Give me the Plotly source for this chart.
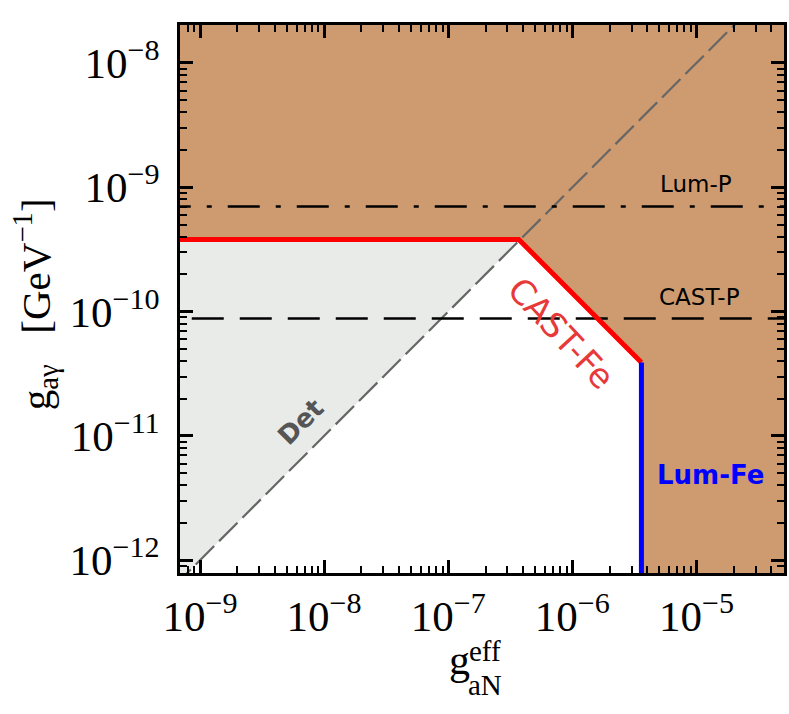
import math
import plotly.graph_objects as go

# ---- data ----
cast_fe_x = [6.9e-10, 3.7e-7, 3.6e-6]
cast_fe_y = [3.8e-10, 3.8e-10, 3.9e-11]
lum_fe_x = [3.6e-6, 3.6e-6]
lum_fe_y = [3.9e-11, 7.0e-13]
lum_p_y = 7.0e-10
cast_p_y = 8.8e-11
det_x = [6.0e-10, 2.2e-5]
det_y = [6.0e-13, 2.2e-8]

x_range = [6.9e-10, 5.07e-5]
y_range = [7.9e-13, 2.02e-8]

x_tick_vals = [1e-9, 1e-8, 1e-7, 1e-6, 1e-5]
x_tick_text = ["10<sup>−9</sup>", "10<sup>−8</sup>", "10<sup>−7</sup>", "10<sup>−6</sup>", "10<sup>−5</sup>"]
y_tick_vals = [1e-12, 1e-11, 1e-10, 1e-9, 1e-8]
y_tick_text = ["10<sup>−12</sup>", "10<sup>−11</sup>", "10<sup>−10</sup>", "10<sup>−9</sup>", "10<sup>−8</sup>"]

BROWN = "#CE9B71"
GREY_FILL = "#E8EBE8"

lo_x, hi_x = 1e-11, 1e-3
lo_y, hi_y = 1e-14, 1e-6

def minor_vals(a, b):
    out = []
    for e in range(a, b + 1):
        for k in range(2, 10):
            out.append(k * 10.0 ** e)
    return out

fig = go.Figure()

# brown excluded region
fig.add_trace(go.Scatter(
    x=[lo_x, cast_fe_x[1], cast_fe_x[2], lum_fe_x[1], hi_x, hi_x, lo_x],
    y=[cast_fe_y[0], cast_fe_y[1], cast_fe_y[2], lo_y, lo_y, hi_y, hi_y],
    fill="toself", fillcolor=BROWN, line=dict(width=0), mode="lines",
    hoverinfo="skip", showlegend=False))

# grey (Det) region
ratio = det_y[0] / det_x[0]
fig.add_trace(go.Scatter(
    x=[lo_x, lo_x, cast_fe_x[1], cast_fe_x[1], lo_x],
    y=[lo_y, cast_fe_y[0], cast_fe_y[1], cast_fe_x[1] * ratio, lo_x * ratio],
    fill="toself", fillcolor=GREY_FILL, line=dict(width=0), mode="lines",
    hoverinfo="skip", showlegend=False))

# Det line
fig.add_trace(go.Scatter(x=det_x, y=det_y, mode="lines",
    line=dict(color="#666666", width=2.2, dash="26px,7px"), showlegend=False))

# Lum-P dash-dot
fig.add_trace(go.Scatter(x=[lo_x, hi_x], y=[lum_p_y, lum_p_y], mode="lines",
    line=dict(color="black", width=2.4, dash="32px,16px,5px,16px"), showlegend=False))

# CAST-P dashed
fig.add_trace(go.Scatter(x=[lo_x, hi_x], y=[cast_p_y, cast_p_y], mode="lines",
    line=dict(color="black", width=2.4, dash="32px,16px"), showlegend=False))

# CAST-Fe
fig.add_trace(go.Scatter(x=[lo_x] + cast_fe_x[1:], y=cast_fe_y, mode="lines",
    line=dict(color="#FF0000", width=5), showlegend=False))

# Lum-Fe
fig.add_trace(go.Scatter(x=lum_fe_x, y=lum_fe_y, mode="lines",
    line=dict(color="#0000FF", width=5), showlegend=False))

def L(v):
    return math.log10(v)

ann = []
ann.append(dict(x=-5.006, y=-8.974, text="Lum-P", showarrow=False,
                font=dict(family="DejaVu Sans", size=23, color="black")))
ann.append(dict(x=-4.974, y=-9.883, text="CAST-P", showarrow=False,
                font=dict(family="DejaVu Sans", size=23, color="black")))
ann.append(dict(x=-6.09, y=-10.17, text="CAST-Fe", showarrow=False, textangle=47,
                font=dict(family="DejaVu Sans", size=34, color="#E8393A")))
ann.append(dict(x=-4.886, y=-11.316, text="<b>Lum-Fe</b>", showarrow=False,
                font=dict(family="DejaVu Sans", size=26, color="#0000FF")))
ann.append(dict(x=-8.19, y=-10.89, text="<b>Det</b>", showarrow=False, textangle=-45,
                font=dict(family="DejaVu Sans", size=26, color="#555555")))

# axis titles
serif = "Liberation Serif"
ann.append(dict(xref="paper", yref="paper", x=-0.29, y=0.49, textangle=-90,
                text="g<sub>aγ</sub>&nbsp;&nbsp;&nbsp;[GeV<sup>−1</sup>]", showarrow=False,
                font=dict(family=serif, size=41, color="black")))
ann.append(dict(xref="paper", yref="paper", x=0.462, y=-0.205, text="g", showarrow=False,
                font=dict(family=serif, size=42, color="black")))
ann.append(dict(xref="paper", yref="paper", x=0.505, y=-0.175, text="eff", showarrow=False,
                font=dict(family=serif, size=29, color="black")))
ann.append(dict(xref="paper", yref="paper", x=0.505, y=-0.238, text="aN", showarrow=False,
                font=dict(family=serif, size=29, color="black")))

axis_common = dict(
    type="log", showgrid=False, zeroline=False, showline=True, linecolor="black",
    linewidth=2.5, mirror="allticks", ticks="inside", ticklen=13, tickwidth=3,
    tickcolor="black", tickfont=dict(family=serif, size=43, color="black"),
    tickmode="array",
)

fig.update_xaxes(**axis_common, range=[L(x_range[0]), L(x_range[1])],
                 tickvals=x_tick_vals, ticktext=x_tick_text, ticklabelstandoff=4,
                 minor=dict(ticks="inside", ticklen=7, tickwidth=1.8, tickcolor="black",
                            tickmode="array", tickvals=minor_vals(-10, -5), showgrid=False))
fig.update_yaxes(**axis_common, range=[L(y_range[0]), L(y_range[1])],
                 tickvals=y_tick_vals, ticktext=y_tick_text, ticklabelstandoff=9,
                 minor=dict(ticks="inside", ticklen=7, tickwidth=1.8, tickcolor="black",
                            tickmode="array", tickvals=minor_vals(-13, -8), showgrid=False))

fig.update_layout(
    width=789, height=714,
    margin=dict(l=180, r=5, t=25, b=141, autoexpand=False),
    plot_bgcolor="white", paper_bgcolor="white",
    annotations=ann, showlegend=False,
)

fig.write_html("out.html", config={"displayModeBar": False},
               post_script="document.body.style.margin='0px';")
